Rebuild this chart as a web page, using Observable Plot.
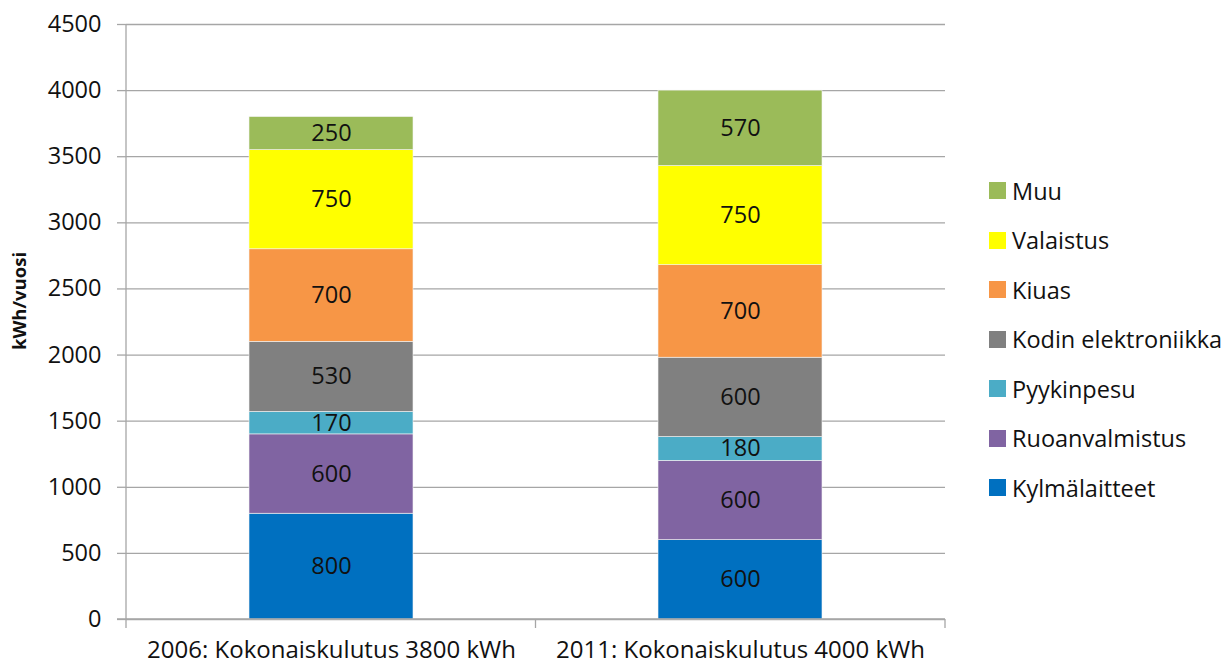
<!DOCTYPE html>
<html>
<head>
<meta charset="utf-8">
<script src="https://cdn.jsdelivr.net/npm/d3@7"></script>
<script src="https://cdn.jsdelivr.net/npm/@observablehq/plot@0.6"></script>
<style>
  html, body { margin: 0; padding: 0; background: #fff; }
  #wrap { position: relative; width: 1232px; height: 665px; font-family: "Open Sans", sans-serif; }
  #legend { position: absolute; left: 989px; top: 182px; }
  .item { display: flex; align-items: center; height: 49.5px; margin-top: -16px; margin-bottom: 16px; font-size: 23.5px; color: #111; }
  .sw { width: 17px; height: 17px; margin-right: 6px; flex: none; }
  #ylab { position: absolute; left: 18px; top: 301px; transform: translate(-50%, -50%) rotate(-90deg); font-weight: bold; font-size: 18.5px; color: #111; white-space: nowrap; }
</style>
</head>
<body>
<div id="wrap"><div id="ylab"></div><div id="legend"></div></div>
<script>
const years = ["2006: Kokonaiskulutus 3800 kWh", "2011: Kokonaiskulutus 4000 kWh"];
const categories = ["Kylmälaitteet", "Ruoanvalmistus", "Pyykinpesu", "Kodin elektroniikka", "Kiuas", "Valaistus", "Muu"];
const colors = ["#0070C0", "#8064A2", "#4BACC6", "#808080", "#F79646", "#FFFF00", "#9BBB59"];
const values2006 = [800, 600, 170, 530, 700, 750, 250];
const values2011 = [600, 600, 180, 600, 700, 750, 570];
const yTicks = [0, 500, 1000, 1500, 2000, 2500, 3000, 3500, 4000, 4500];
const yLabel = "kWh/vuosi";

const data = [];
categories.forEach((c, i) => data.push({year: years[0], cat: c, value: values2006[i]}));
categories.forEach((c, i) => data.push({year: years[1], cat: c, value: values2011[i]}));

const gridColor = "#a6a6a6";
const plot = Plot.plot({
  width: 1232,
  height: 665,
  marginLeft: 126,
  marginRight: 287,
  marginTop: 24,
  marginBottom: 46,
  style: {fontFamily: "'Open Sans', sans-serif", fontSize: "23.5px", color: "#111", background: "#fff"},
  x: {domain: years, paddingInner: 0.6, paddingOuter: 0.3, label: null},
  y: {domain: [0, 4500], label: null},
  color: {domain: categories, range: colors},
  marks: [
    Plot.ruleY(yTicks, {stroke: gridColor, strokeWidth: 1.3, strokeOpacity: 1}),
    Plot.barY(data, Plot.stackY({x: "year", y: "value", fill: "cat", order: categories, stroke: "#f4f4f4", strokeWidth: 0.6})),
    Plot.text(data, Plot.stackY({x: "year", y: "value", z: "cat", order: categories, text: d => String(d.value), fill: "#111", fontSize: 23.5})),
    Plot.axisY({ticks: yTicks, tickFormat: d => String(d), tickSize: 9, tickPadding: 16, stroke: gridColor, strokeWidth: 1.3, label: null, fontSize: 23.5}),
    Plot.axisX({tickSize: 0, tickPadding: 21, label: null, fontSize: 24})
  ]
});
document.getElementById("wrap").appendChild(plot);

// axis line + band boundary ticks from library scales
const xs = plot.scale("x");
const ys = plot.scale("y");
const svg = d3.select(plot);
const [r0, r1] = xs.range;
const yScale = d3.scaleLinear(ys.domain, ys.range);
const y0 = yScale(0), yTop = yScale(4500);
svg.append("line").attr("x1", r0).attr("x2", r0).attr("y1", yTop).attr("y2", y0 + 9).attr("stroke", gridColor).attr("stroke-width", 1.3);
svg.append("line").attr("x1", r0 - 9).attr("x2", r1).attr("y1", y0).attr("y2", y0).attr("stroke", gridColor).attr("stroke-width", 1.3);
for (let i = 1; i <= years.length; i++) {
  const xb = r0 + i * (r1 - r0) / years.length;
  svg.append("line").attr("x1", xb).attr("x2", xb).attr("y1", y0).attr("y2", y0 + 9).attr("stroke", gridColor).attr("stroke-width", 1.3);
}

document.getElementById("ylab").textContent = yLabel;
const legend = document.getElementById("legend");
categories.slice().reverse().forEach(c => {
  const it = document.createElement("div");
  it.className = "item";
  const sw = document.createElement("span");
  sw.className = "sw";
  sw.style.background = colors[categories.indexOf(c)];
  const t = document.createElement("span");
  t.textContent = c;
  it.appendChild(sw); it.appendChild(t);
  legend.appendChild(it);
});
</script>
</body>
</html>
